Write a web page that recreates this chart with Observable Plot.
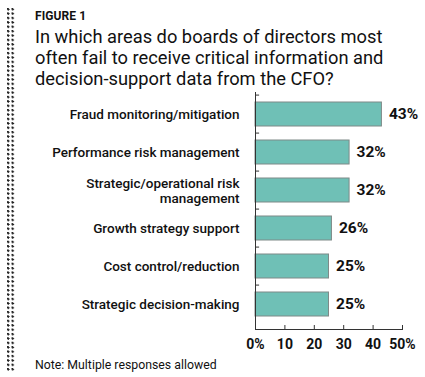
<!DOCTYPE html>
<html>
<head>
<meta charset="utf-8">
<script src="https://cdn.jsdelivr.net/npm/d3@7"></script>
<script src="https://cdn.jsdelivr.net/npm/@observablehq/plot@0.6"></script>
<style>
  html, body { margin: 0; padding: 0; background: #fff; }
  #page { position: relative; width: 425px; height: 377px; overflow: hidden; font-family: Roboto, "Noto Sans", sans-serif; color: #111; }
  #dots { position: absolute; left: 7px; top: 8px; width: 8px; height: 364px;
    background-image: radial-gradient(circle at 1.2px 1.2px, #222 1.1px, transparent 1.3px);
    background-size: 4.5px 4.4px; }
  #fig { position: absolute; left: 35px; top: 10px; font-size: 12px; line-height: 12px; font-weight: 700; letter-spacing: 0.1px; }
  #title { position: absolute; left: 35px; top: 26px; font-size: 18.3px; line-height: 21px; font-weight: 400; }
  #note { position: absolute; left: 35px; top: 359px; font-size: 12.3px; line-height: 12px; }
  #chart { position: absolute; left: 0; top: 88px; }
</style>
</head>
<body>
<div id="page">
  <div id="dots"></div>
  <div id="fig">FIGURE 1</div>
  <div id="title">In which areas do boards of directors most<br>often fail to receive critical information and<br>decision-support data from the CFO?</div>
  <div id="chart"></div>
  <div id="note">Note: Multiple responses allowed</div>
</div>
<script>
const categories = [
  "Fraud monitoring/mitigation",
  "Performance risk management",
  "Strategic/operational risk\nmanagement",
  "Growth strategy support",
  "Cost control/reduction",
  "Strategic decision-making"
];
const values = [43, 32, 32, 26, 25, 25];
const xTicks = [0, 10, 20, 30, 40, 50];

const data = categories.map((c, i) => ({category: c, value: values[i]}));

const W = 425, H = 270, mTop = 4, mBottom = 29;
const step = (H - mTop - mBottom - 1 - 3) / 6;

const plot = Plot.plot({
  width: W,
  height: H,
  marginLeft: 255,
  marginRight: 23,
  marginTop: mTop,
  marginBottom: mBottom,
  style: {fontFamily: "Roboto, 'Noto Sans', sans-serif", color: "#111", background: "transparent"},
  x: {domain: [0, 50], axis: null, label: null},
  y: {domain: categories, paddingInner: 0.36, paddingOuter: 0.18, insetTop: 1, insetBottom: 3, axis: null, label: null},
  marks: [
    Plot.barX(data, {x: "value", y: "category", fill: "#6fc0b6", stroke: "#7f8a88", strokeWidth: 1}),
    Plot.text(data, {x: "value", y: "category", text: d => d.value + "%", textAnchor: "start", dx: 7, fontSize: 15.5, fontWeight: 700, fill: "#111"}),
    Plot.ruleX([0], {stroke: "#333", strokeWidth: 1}),
    Plot.frame({anchor: "bottom", stroke: "#333", strokeWidth: 1}),
    Plot.ruleY(categories, {y: d => d, x1: 0, x2: 1.4, dy: -step / 2, stroke: "#333", strokeWidth: 1}),
    Plot.ruleX(xTicks, {x: d => d, insetTop: H - mTop - mBottom - 4, stroke: "#333", strokeWidth: 1}),
    Plot.axisY({tickSize: 0, tickPadding: 16, fontSize: 13.5, fontWeight: 500, lineHeight: 1.1, fill: "#111", label: null}),
    Plot.axisX({ticks: xTicks, tickSize: 0, tickPadding: 10, fontSize: 14, fontWeight: 700, fill: "#111", label: null,
      tickFormat: d => (d === 0 || d === 50) ? d + "%" : String(d)})
  ]
});
document.getElementById("chart").appendChild(plot);
</script>
</body>
</html>
